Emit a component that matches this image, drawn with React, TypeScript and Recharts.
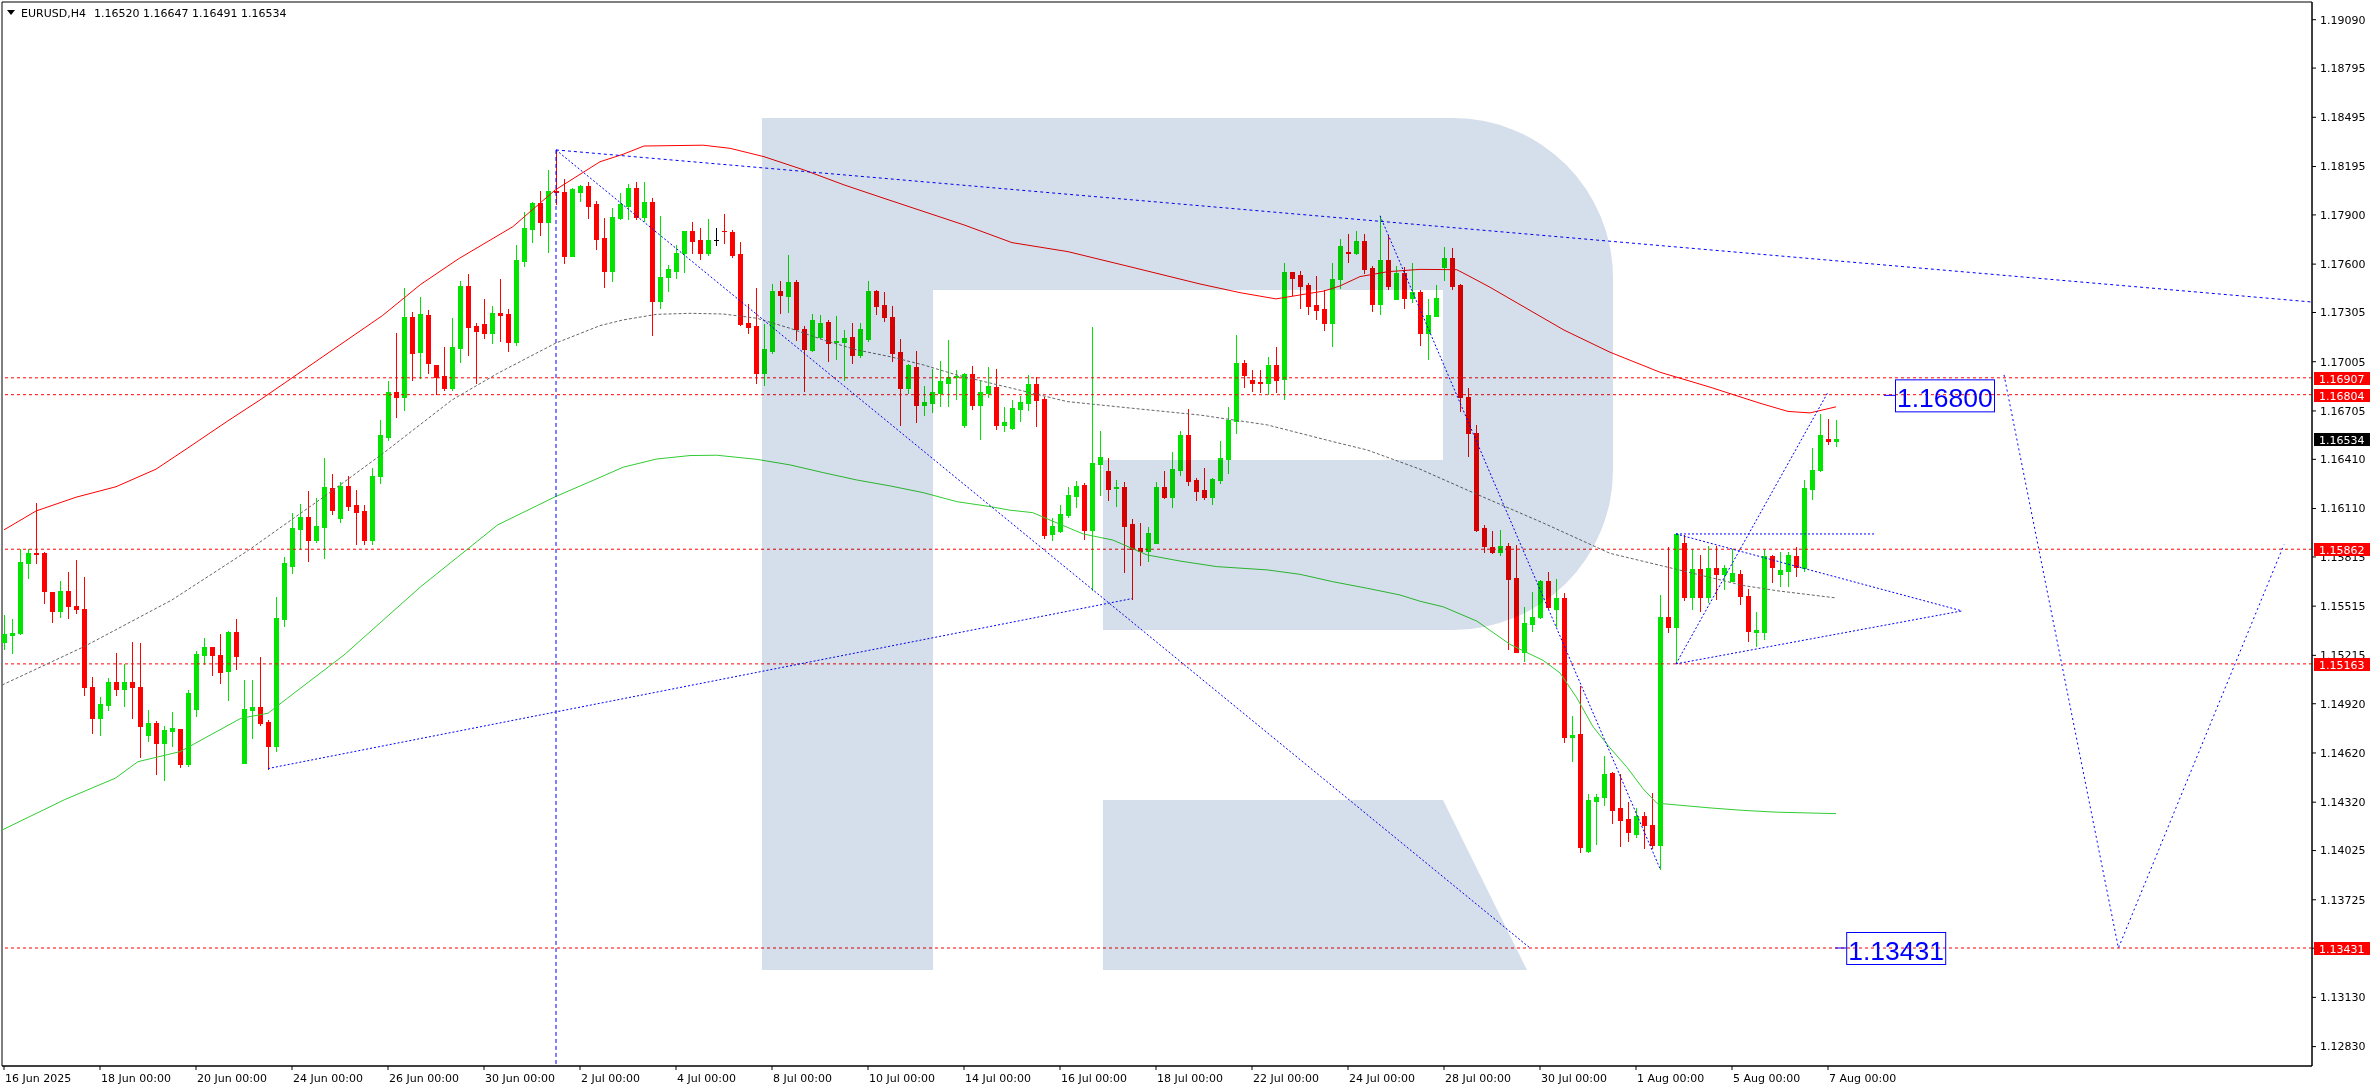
import React from "react";
import {
  ComposedChart,
  Bar,
  Line,
  XAxis,
  YAxis,
  ReferenceLine,
  ReferenceDot,
  ReferenceArea,
} from "recharts";

// EURUSD H4, 16 Jun 2025 00:00 -> 7 Aug 2025 04:00 (bar index 0..229)
const opens = [
  1.15299, 1.15337, 1.1535, 1.1578, 1.15841, 1.15839, 1.156, 1.15488, 1.15608, 1.15516,
  1.15498, 1.15022, 1.14835, 1.14915, 1.15053, 1.15012, 1.15053, 1.15022, 1.14732, 1.14803,
  1.14683, 1.14756, 1.14766, 1.14555, 1.1489, 1.15217, 1.15266, 1.15217, 1.15122, 1.1536,
  1.14561, 1.14884, 1.14901, 1.14809, 1.14665, 1.15437, 1.15762, 1.15988, 1.16059, 1.15921,
  1.16, 1.16236, 1.16055, 1.16248, 1.16132, 1.16095, 1.15921, 1.16309, 1.16548, 1.16818,
  1.16792, 1.17276, 1.17066, 1.1729, 1.16985, 1.16918, 1.16847, 1.17091, 1.17469, 1.17223,
  1.17235, 1.17178, 1.173, 1.17296, 1.17127, 1.17621, 1.17814, 1.17973, 1.17859, 1.18046,
  1.18038, 1.17651, 1.1804, 1.18076, 1.17966, 1.1776, 1.17561, 1.17884, 1.17957, 1.18062,
  1.1789, 1.17979, 1.17378, 1.1752, 1.17561, 1.1767, 1.178, 1.17747, 1.17666, 1.17747,
  1.17804, 1.17796, 1.17662, 1.17239, 1.17223, 1.16939, 1.17073, 1.17435, 1.17408, 1.17489,
  1.17203, 1.17077, 1.17154, 1.17248, 1.17124, 1.17128, 1.17154, 1.17044, 1.17146, 1.17435,
  1.17349, 1.17276, 1.17065, 1.16847, 1.16975, 1.1674, 1.16756, 1.16817, 1.16878, 1.1691,
  1.16618, 1.16931, 1.16744, 1.16817, 1.16853, 1.16618, 1.16599, 1.16717, 1.16756, 1.16869,
  1.16778, 1.15955, 1.15975, 1.16073, 1.16189, 1.16256, 1.15977, 1.16384, 1.16339, 1.16233,
  1.16242, 1.16016, 1.1587, 1.15853, 1.15902, 1.16242, 1.16181, 1.16347, 1.16559, 1.16284,
  1.16223, 1.16181, 1.16284, 1.16414, 1.16646, 1.16997, 1.16894, 1.16884, 1.16878, 1.16983,
  1.16902, 1.17552, 1.17532, 1.17471, 1.17349, 1.17327, 1.17243, 1.17507, 1.17676, 1.1767,
  1.17739, 1.17575, 1.17359, 1.17625, 1.1739, 1.17546, 1.17396, 1.1743, 1.17182, 1.17286,
  1.17585, 1.17638, 1.17473, 1.16789, 1.16573, 1.1599, 1.15874, 1.15848, 1.15879, 1.15687,
  1.15234, 1.15409, 1.15448, 1.15668, 1.155, 1.15563, 1.14718, 1.14736, 1.14022, 1.14329,
  1.14351, 1.14499, 1.14285, 1.14218, 1.14128, 1.14235, 1.14181, 1.14057, 1.15448, 1.15387,
  1.15898, 1.1557, 1.15742, 1.1557, 1.15748, 1.15714, 1.15668, 1.15709, 1.15574, 1.15358,
  1.15358, 1.15818, 1.15711, 1.15731, 1.15822, 1.15748, 1.16227, 1.16342, 1.16532, 1.1652,
];
const highs = [
  1.15461, 1.15437, 1.15862, 1.15862, 1.16142, 1.15845, 1.15604, 1.15669, 1.15723, 1.15797,
  1.15693, 1.15085, 1.14961, 1.15077, 1.1523, 1.15161, 1.15297, 1.15291, 1.14882, 1.14815,
  1.14785, 1.1487, 1.14766, 1.15004, 1.1524, 1.15321, 1.15266, 1.15345, 1.15366, 1.15437,
  1.15067, 1.15067, 1.15205, 1.14821, 1.15571, 1.15815, 1.16083, 1.16138, 1.16219, 1.16175,
  1.16418, 1.16321, 1.16272, 1.16309, 1.16223, 1.16132, 1.16357, 1.1665, 1.16887, 1.17178,
  1.17456, 1.17308, 1.174, 1.17318, 1.16985, 1.17097, 1.17274, 1.17497, 1.1754, 1.17239,
  1.17387, 1.17345, 1.17509, 1.17324, 1.17714, 1.17918, 1.17981, 1.18046, 1.18174, 1.18296,
  1.18119, 1.18066, 1.18082, 1.18101, 1.17985, 1.17882, 1.1794, 1.18032, 1.18089, 1.18101,
  1.18101, 1.18004, 1.17894, 1.17595, 1.17715, 1.178, 1.17857, 1.17821, 1.17878, 1.17821,
  1.17906, 1.17808, 1.17735, 1.17357, 1.17453, 1.17235, 1.17479, 1.17496, 1.17656, 1.17502,
  1.17223, 1.17296, 1.1729, 1.1726, 1.17284, 1.17199, 1.17239, 1.17239, 1.17496, 1.17443,
  1.17428, 1.17345, 1.17142, 1.1699, 1.17071, 1.16857, 1.16959, 1.17012, 1.17138, 1.16955,
  1.16939, 1.1698, 1.16886, 1.16971, 1.16963, 1.16727, 1.16772, 1.16796, 1.16924, 1.1691,
  1.16788, 1.16051, 1.1613, 1.16244, 1.16278, 1.16264, 1.17217, 1.16583, 1.16418, 1.16284,
  1.1627, 1.16049, 1.16024, 1.15998, 1.1627, 1.16339, 1.16455, 1.16583, 1.16717, 1.16296,
  1.16357, 1.16298, 1.16522, 1.16729, 1.17168, 1.17018, 1.16955, 1.16955, 1.17034, 1.17095,
  1.17607, 1.17552, 1.1756, 1.17487, 1.17526, 1.17442, 1.17607, 1.17751, 1.17784, 1.17802,
  1.17784, 1.17589, 1.17895, 1.17778, 1.17589, 1.17581, 1.17609, 1.17442, 1.17388, 1.17473,
  1.17705, 1.17696, 1.17479, 1.16845, 1.16619, 1.16012, 1.15972, 1.15979, 1.15898, 1.15885,
  1.15511, 1.156, 1.15674, 1.15722, 1.15681, 1.15598, 1.14845, 1.15028, 1.14368, 1.14368,
  1.14601, 1.14503, 1.1449, 1.1432, 1.14285, 1.14259, 1.14377, 1.15583, 1.15877, 1.15961,
  1.15951, 1.15861, 1.15827, 1.15881, 1.15879, 1.15766, 1.15866, 1.15733, 1.1562, 1.15478,
  1.15857, 1.15827, 1.15844, 1.15848, 1.15874, 1.16284, 1.1648, 1.16686, 1.16654, 1.16647,
];
const lows = [
  1.15252, 1.15232, 1.15345, 1.15689, 1.15776, 1.15537, 1.15421, 1.15449, 1.15443, 1.15472,
  1.14976, 1.1474, 1.14732, 1.14884, 1.14976, 1.14909, 1.14835, 1.14598, 1.14695, 1.14494,
  1.14456, 1.14665, 1.14537, 1.14543, 1.14848, 1.15161, 1.15094, 1.15049, 1.14941, 1.15134,
  1.14561, 1.14714, 1.14791, 1.14525, 1.14634, 1.15394, 1.15717, 1.15866, 1.15791, 1.15908,
  1.15811, 1.16079, 1.1603, 1.16103, 1.15896, 1.15896, 1.15896, 1.16268, 1.1653, 1.1667,
  1.16711, 1.16893, 1.16904, 1.16938, 1.16808, 1.16833, 1.16833, 1.17005, 1.17046, 1.16873,
  1.17152, 1.17117, 1.17133, 1.17072, 1.17105, 1.17591, 1.17737, 1.1778, 1.17672, 1.17966,
  1.17609, 1.17651, 1.17987, 1.17879, 1.17694, 1.17463, 1.175, 1.17878, 1.17873, 1.17873,
  1.17865, 1.1717, 1.17335, 1.17439, 1.17516, 1.17554, 1.1767, 1.17634, 1.17658, 1.17719,
  1.17731, 1.17642, 1.17231, 1.17178, 1.16874, 1.16862, 1.17061, 1.17304, 1.17311, 1.17138,
  1.16825, 1.17073, 1.1715, 1.17012, 1.1702, 1.16894, 1.17, 1.17036, 1.17134, 1.17298,
  1.17256, 1.17012, 1.16622, 1.16813, 1.1664, 1.16683, 1.16701, 1.16738, 1.16738, 1.1678,
  1.16605, 1.16719, 1.16536, 1.16792, 1.16597, 1.16585, 1.16593, 1.16646, 1.16711, 1.16613,
  1.15933, 1.15918, 1.15967, 1.16057, 1.16118, 1.15926, 1.15614, 1.16193, 1.16162, 1.16126,
  1.15725, 1.15561, 1.15766, 1.15792, 1.15898, 1.16175, 1.16118, 1.16317, 1.16256, 1.16164,
  1.16166, 1.1614, 1.16268, 1.16329, 1.16573, 1.16853, 1.16827, 1.16821, 1.1681, 1.16821,
  1.1678, 1.17412, 1.17335, 1.17296, 1.17268, 1.17199, 1.17103, 1.17455, 1.17613, 1.17662,
  1.17548, 1.17314, 1.17298, 1.17451, 1.17386, 1.17335, 1.17369, 1.17107, 1.17024, 1.17286,
  1.17505, 1.17449, 1.16702, 1.16432, 1.15975, 1.15848, 1.15837, 1.15826, 1.15256, 1.15234,
  1.15182, 1.15363, 1.15443, 1.15502, 1.15393, 1.14684, 1.14573, 1.14015, 1.14015, 1.14068,
  1.14303, 1.14194, 1.1405, 1.14085, 1.14107, 1.14041, 1.14041, 1.13915, 1.15356, 1.15174,
  1.15554, 1.15496, 1.15487, 1.15539, 1.15561, 1.15622, 1.15666, 1.15531, 1.15304, 1.15269,
  1.15317, 1.15661, 1.15635, 1.15635, 1.15696, 1.15729, 1.16171, 1.16338, 1.16506, 1.16491,
];
const closes = [
  1.15345, 1.1535, 1.15784, 1.15839, 1.15833, 1.1561, 1.15488, 1.15608, 1.15518, 1.15496,
  1.1502, 1.14835, 1.14919, 1.15053, 1.15012, 1.15053, 1.15025, 1.14787, 1.14803, 1.14683,
  1.1476, 1.14772, 1.14555, 1.14988, 1.15224, 1.15266, 1.15217, 1.15116, 1.1536, 1.15213,
  1.14888, 1.14901, 1.14803, 1.14665, 1.15443, 1.15778, 1.15992, 1.16059, 1.15921, 1.16004,
  1.16242, 1.16103, 1.16248, 1.16128, 1.16091, 1.15921, 1.16309, 1.16559, 1.16822, 1.16792,
  1.17276, 1.1706, 1.17296, 1.16999, 1.16914, 1.16847, 1.17095, 1.17469, 1.17219, 1.17194,
  1.17178, 1.173, 1.17292, 1.17127, 1.17625, 1.1782, 1.17975, 1.17859, 1.18046, 1.18038,
  1.17651, 1.18058, 1.18076, 1.17956, 1.17755, 1.17561, 1.17886, 1.17967, 1.18062, 1.1789,
  1.17979, 1.17378, 1.1752, 1.17569, 1.17666, 1.178, 1.17743, 1.17666, 1.17747, 1.17747,
  1.178, 1.17658, 1.17235, 1.17219, 1.16939, 1.17081, 1.17435, 1.17414, 1.17489, 1.17207,
  1.17085, 1.17258, 1.17239, 1.17122, 1.17132, 1.17148, 1.17048, 1.17203, 1.17435, 1.17347,
  1.17276, 1.17061, 1.16847, 1.16983, 1.16744, 1.1676, 1.16821, 1.16888, 1.1691, 1.16918,
  1.16931, 1.16744, 1.16821, 1.16857, 1.16618, 1.16638, 1.16723, 1.16762, 1.16869, 1.16772,
  1.15949, 1.16004, 1.16077, 1.16193, 1.1625, 1.15977, 1.16386, 1.16424, 1.16229, 1.16242,
  1.16006, 1.15862, 1.15853, 1.15961, 1.16242, 1.16181, 1.16351, 1.16559, 1.1628, 1.16219,
  1.16181, 1.1629, 1.16418, 1.1665, 1.16997, 1.16924, 1.16878, 1.16878, 1.16983, 1.16896,
  1.17552, 1.17518, 1.17467, 1.17345, 1.17323, 1.17243, 1.1751, 1.17711, 1.1767, 1.17739,
  1.17572, 1.17359, 1.17625, 1.17467, 1.17546, 1.17396, 1.17428, 1.17178, 1.1729, 1.17394,
  1.17638, 1.17469, 1.16789, 1.16573, 1.15979, 1.15879, 1.15848, 1.15879, 1.15683, 1.15234,
  1.15413, 1.15448, 1.15668, 1.15507, 1.15565, 1.14718, 1.14727, 1.14048, 1.14331, 1.14351,
  1.14492, 1.14274, 1.14213, 1.14137, 1.14233, 1.14183, 1.14057, 1.15448, 1.15387, 1.15953,
  1.1557, 1.15742, 1.1557, 1.15748, 1.15714, 1.15748, 1.15716, 1.15574, 1.15361, 1.15367,
  1.15822, 1.15755, 1.15733, 1.15824, 1.15753, 1.16236, 1.16342, 1.16556, 1.16519, 1.16534,
];

// moving averages, read at sample bar positions
const redMaIdx = [0, 4, 9, 14, 19, 23, 28, 32, 37.75, 42.5, 47.3, 52.1, 56.9, 63.6, 68.9, 74.5, 77.4, 80, 87.4, 90.75, 95, 100, 105, 110, 115, 120, 126, 133, 141, 149.5, 154.5, 159, 162, 165, 167, 169.5, 173, 177, 181.6, 183.25, 185.75, 195, 200.75, 207, 213.25, 219.5, 223, 225.75, 229];
const redMaVal = [1.1598, 1.16095, 1.16179, 1.16243, 1.1635, 1.1648, 1.16645, 1.16772, 1.16965, 1.17125, 1.17286, 1.17477, 1.17635, 1.17828, 1.18052, 1.18224, 1.1827, 1.1832, 1.18325, 1.18306, 1.18255, 1.18174, 1.18083, 1.18001, 1.1792, 1.17839, 1.17731, 1.17676, 1.17581, 1.17479, 1.17426, 1.17388, 1.17412, 1.17436, 1.17467, 1.17524, 1.17554, 1.17568, 1.17566, 1.17524, 1.17459, 1.17198, 1.17063, 1.16941, 1.1685, 1.16752, 1.16702, 1.16693, 1.1673];
const greenMaIdx = [-0.25, 7.6, 13.9, 16.75, 22, 29.6, 33, 35.4, 42.5, 52.1, 61.7, 68.9, 74.5, 77.4, 81.6, 85.75, 89.1, 94.1, 98.25, 102.4, 106.6, 110.75, 114.9, 119.1, 123.25, 125.75, 128.6, 130.75, 134.9, 138.6, 142.9, 147, 151.6, 157.9, 162, 166.1, 170.4, 174.5, 177, 179.9, 184.1, 188.25, 192.4, 194.5, 196.6, 198.6, 200.75, 202.9, 204.9, 206.6, 209.1, 213.25, 217.4, 221.6, 229];
const greenMaVal = [1.1415, 1.14336, 1.14466, 1.14567, 1.14628, 1.14831, 1.14862, 1.14953, 1.15217, 1.15634, 1.1601, 1.16182, 1.163, 1.16362, 1.16412, 1.16433, 1.16435, 1.1641, 1.16376, 1.16329, 1.16284, 1.16248, 1.16207, 1.16152, 1.16122, 1.161, 1.16085, 1.1604, 1.15955, 1.15918, 1.15827, 1.1579, 1.15756, 1.15736, 1.15709, 1.15664, 1.15624, 1.15583, 1.15545, 1.15511, 1.15424, 1.15282, 1.15184, 1.15108, 1.14956, 1.14782, 1.14651, 1.14531, 1.14401, 1.14314, 1.14303, 1.14285, 1.1427, 1.14259, 1.1425];
const grayMaIdx = [-0.25, 10, 21, 30.6, 40.6, 47.4, 56, 61.7, 68.9, 74.5, 77.4, 81.6, 85.75, 89.9, 94.1, 98.25, 102.4, 106.6, 110.75, 114.9, 119.1, 125.75, 132.9, 141.1, 149.5, 157.9, 166.1, 170.4, 177, 184.1, 192.4, 200.75, 209.1, 217.4, 221.6, 229];
const grayMaVal = [1.15034, 1.15268, 1.15553, 1.15857, 1.16203, 1.16447, 1.16772, 1.16934, 1.17117, 1.17225, 1.1726, 1.17294, 1.173, 1.17296, 1.1727, 1.17209, 1.17138, 1.17077, 1.17036, 1.16986, 1.16924, 1.16846, 1.16762, 1.16721, 1.1668, 1.1662, 1.16518, 1.16467, 1.1635, 1.16197, 1.16022, 1.15837, 1.15739, 1.15641, 1.15609, 1.15565];

// analysis objects: [x1, y1, x2, y2] in bar index / price
const trendLines = [
  [69, 1.18296, 288.5, 1.17369],
  [69, 1.18296, 190.75, 1.13431],
  [33, 1.14525, 141, 1.15561],
  [172, 1.17895, 189.5, 1.159],
  [189.5, 1.159, 207, 1.13915],
  [209, 1.15163, 228, 1.1682],
  [209, 1.15955, 234, 1.15955],
  [209, 1.15955, 244.75, 1.15486],
  [209, 1.15163, 244.75, 1.15486],
];
const forecastIdx = [250, 264.3, 285];
const forecastVal = [1.16925, 1.13431, 1.1589];
const targetIdx = [235, 228.9];
const targetVal = [1.168, 1.13431];

const redLevels = [1.16907, 1.16804, 1.15862, 1.15163, 1.13431];
const lastPrice = 1.16534;

const yTicks = [1.1909, 1.18795, 1.18495, 1.18195, 1.179, 1.176, 1.17305, 1.17005, 1.16705, 1.1641, 1.1611, 1.15815, 1.15515, 1.15215, 1.1492, 1.1462, 1.1432, 1.14025, 1.13725, 1.1343, 1.1313, 1.1283];
const xTickIdx = [0, 12, 24, 36, 48, 60, 72, 84, 96, 108, 120, 132, 144, 156, 168, 180, 192, 204, 216, 228];
const xLabels = ["16 Jun 2025", "18 Jun 00:00", "20 Jun 00:00", "24 Jun 00:00", "26 Jun 00:00", "30 Jun 00:00", "2 Jul 00:00", "4 Jul 00:00", "8 Jul 00:00", "10 Jul 00:00", "14 Jul 00:00", "16 Jul 00:00", "18 Jul 00:00", "22 Jul 00:00", "24 Jul 00:00", "28 Jul 00:00", "30 Jul 00:00", "1 Aug 00:00", "5 Aug 00:00", "7 Aug 00:00"];

const X_MIN = -0.25;
const X_MAX = 288.5;
const Y_MIN = 1.127117;
const Y_MAX = 1.191979;
const BULL = "#00e400";
const BEAR = "#ff0000";
const FONT = "DejaVu Sans";
const AXIS_X = 2312;

const candles = opens.map((o, i) => ({
  i,
  o,
  h: highs[i],
  l: lows[i],
  c: closes[i],
  range: [lows[i], highs[i]],
}));
const toSeries = (idx: number[], val: number[]) => idx.map((i, k) => ({ i, v: val[k] }));
const tagLevels = [...redLevels, lastPrice];

function Candle(props: any) {
  const { x, y, width, height, payload } = props;
  const { o, h, l, c } = payload;
  const top = Math.min(y, y + height);
  const span = Math.abs(height);
  const at = (v: number) => (h === l ? top : top + ((h - v) / (h - l)) * span);
  const color = c > o ? BULL : c < o ? BEAR : "#000000";
  const cx = Math.round(x + width / 2);
  const wTop = Math.round(top);
  const wBot = Math.round(top + span);
  const bTop = Math.round(at(Math.max(o, c)));
  const bBot = Math.round(at(Math.min(o, c)));
  return (
    <g shapeRendering="crispEdges">
      <rect x={cx} y={wTop} width={1} height={Math.max(1, wBot - wTop + 1)} fill={color} />
      <rect x={cx - 2} y={bTop} width={5} height={Math.max(1, bBot - bTop + 1)} fill={color} />
    </g>
  );
}

// price tags drawn as ticks of a second, 1px-wide axis so they sit above the price scale
function TagTick(props: any) {
  const { y, payload } = props;
  const v = payload.value;
  const bg = v === lastPrice ? "#000000" : "#ff0000";
  const x = AXIS_X + 2;
  const yy = Math.round(y);
  return (
    <g shapeRendering="crispEdges">
      <rect x={x} y={yy - 6} width={56} height={13} fill={bg} />
      <text x={x + 5} y={yy + 4.5} fontSize={11} fontFamily={FONT} fill="#ffffff">
        {v.toFixed(5)}
      </text>
    </g>
  );
}

function TargetBox(props: any) {
  const { cx, cy, text } = props;
  return (
    <g>
      <line x1={cx} y1={cy} x2={cx + 11} y2={cy} stroke="#0000ff" strokeWidth={1} />
      <rect x={cx + 11.5} y={cy - 15.5} width={99} height={32} fill="none" stroke="#0000ff" strokeWidth={1} />
      <text x={cx + 13} y={cy + 12} fontSize={26.5} fontFamily="Liberation Sans" fill="#0000ff">
        {text}
      </text>
    </g>
  );
}

function XTick(props: any) {
  const { x, y, payload } = props;
  const k = xTickIdx.indexOf(payload.value);
  return (
    <text x={x + 1} y={y + 10} fontSize={11} fontFamily={FONT} fill="#000000">
      {xLabels[k]}
    </text>
  );
}

function Watermark() {
  return (
    <svg
      width={2376}
      height={1090}
      style={{ position: "absolute", left: 0, top: 0, mixBlendMode: "multiply", pointerEvents: "none" }}
    >
      <path
        d="M 762 118 H 1453 A 160 160 0 0 1 1613 278 V 470 A 160 160 0 0 1 1453 630 H 1103 V 460 H 1443 V 290 H 933 V 970 H 762 Z"
        fill="#d5dfeb"
      />
      <path d="M 1103 800 H 1443 L 1527 970 H 1103 Z" fill="#d5dfeb" />
    </svg>
  );
}

export default function App() {
  const last = candles[candles.length - 1];
  const ohlc = [last.o, last.h, last.l, last.c].map((v) => v.toFixed(5)).join(" ");
  return (
    <div style={{ position: "absolute", left: 0, top: 0, width: 2376, height: 1090, background: "#ffffff" }}>
      <ComposedChart
        width={2376}
        height={1090}
        data={candles}
        margin={{ top: 2, right: 0, bottom: 0, left: 2 }}
      >
        <XAxis
          dataKey="i"
          type="number"
          domain={[X_MIN, X_MAX]}
          allowDataOverflow
          ticks={xTickIdx}
          interval={0}
          height={24}
          tickSize={4}
          tick={<XTick />}
          stroke="#000000"
        />
        <YAxis
          orientation="right"
          type="number"
          domain={[Y_MIN, Y_MAX]}
          allowDataOverflow
          ticks={yTicks}
          interval={0}
          width={63}
          tickSize={4}
          tickMargin={4}
          tickFormatter={(v: number) => v.toFixed(5)}
          tick={{ fontSize: 11, fontFamily: FONT, fill: "#000000" }}
          stroke="#000000"
        />
        <YAxis
          yAxisId="tags"
          orientation="right"
          type="number"
          domain={[Y_MIN, Y_MAX]}
          allowDataOverflow
          ticks={tagLevels}
          interval={0}
          width={1}
          axisLine={false}
          tickLine={false}
          tick={<TagTick />}
        />
        <ReferenceArea
          x1={X_MIN}
          x2={X_MAX}
          y1={Y_MIN}
          y2={Y_MAX}
          fill="none"
          stroke="#000000"
          ifOverflow="visible"
        />
        {redLevels.map((p) => (
          <ReferenceLine key={p} y={p} stroke="#ff0000" strokeDasharray="3 3" />
        ))}
        <Line
          data={toSeries(greenMaIdx, greenMaVal)}
          dataKey="v"
          type="linear"
          stroke="#32cd32"
          strokeWidth={1}
          dot={false}
          isAnimationActive={false}
        />
        <Line
          data={toSeries(grayMaIdx, grayMaVal)}
          dataKey="v"
          type="linear"
          stroke="#666666"
          strokeWidth={1}
          strokeDasharray="3 2"
          dot={false}
          isAnimationActive={false}
        />
        <Line
          data={toSeries(redMaIdx, redMaVal)}
          dataKey="v"
          type="linear"
          stroke="#ff0000"
          strokeWidth={1}
          dot={false}
          isAnimationActive={false}
        />
        <ReferenceLine
          segment={[{ x: 69, y: 1.18296 }, { x: 69, y: Y_MIN }]}
          stroke="#0000ff"
          strokeDasharray="4 3"
          ifOverflow="visible"
        />
        {trendLines.map((t, k) => (
          <ReferenceLine
            key={k}
            segment={[{ x: t[0], y: t[1] }, { x: t[2], y: t[3] }]}
            stroke="#0000ff"
            strokeDasharray={k === 0 ? "3 3" : "2 2"}
            ifOverflow="visible"
          />
        ))}
        <Line
          data={toSeries(forecastIdx, forecastVal)}
          dataKey="v"
          type="linear"
          stroke="#0000ff"
          strokeWidth={1}
          strokeDasharray="2 3"
          dot={false}
          isAnimationActive={false}
        />
        <Bar dataKey="range" barSize={5} shape={<Candle />} isAnimationActive={false} />
        {targetIdx.map((ti, k) => (
          <ReferenceDot
            key={k}
            x={ti}
            y={targetVal[k]}
            ifOverflow="visible"
            shape={(p: any) => <TargetBox {...p} text={targetVal[k].toFixed(5)} />}
          />
        ))}
      </ComposedChart>
      <Watermark />
      <svg width={400} height={24} style={{ position: "absolute", left: 0, top: 0 }}>
        <polygon points="7,10 15,10 11,15" fill="#000000" />
        <text x={21} y={17} fontSize={11} fontFamily={FONT} fill="#000000">
          EURUSD,H4
        </text>
        <text x={94} y={17} fontSize={11} fontFamily={FONT} fill="#000000">
          {ohlc}
        </text>
      </svg>
    </div>
  );
}
